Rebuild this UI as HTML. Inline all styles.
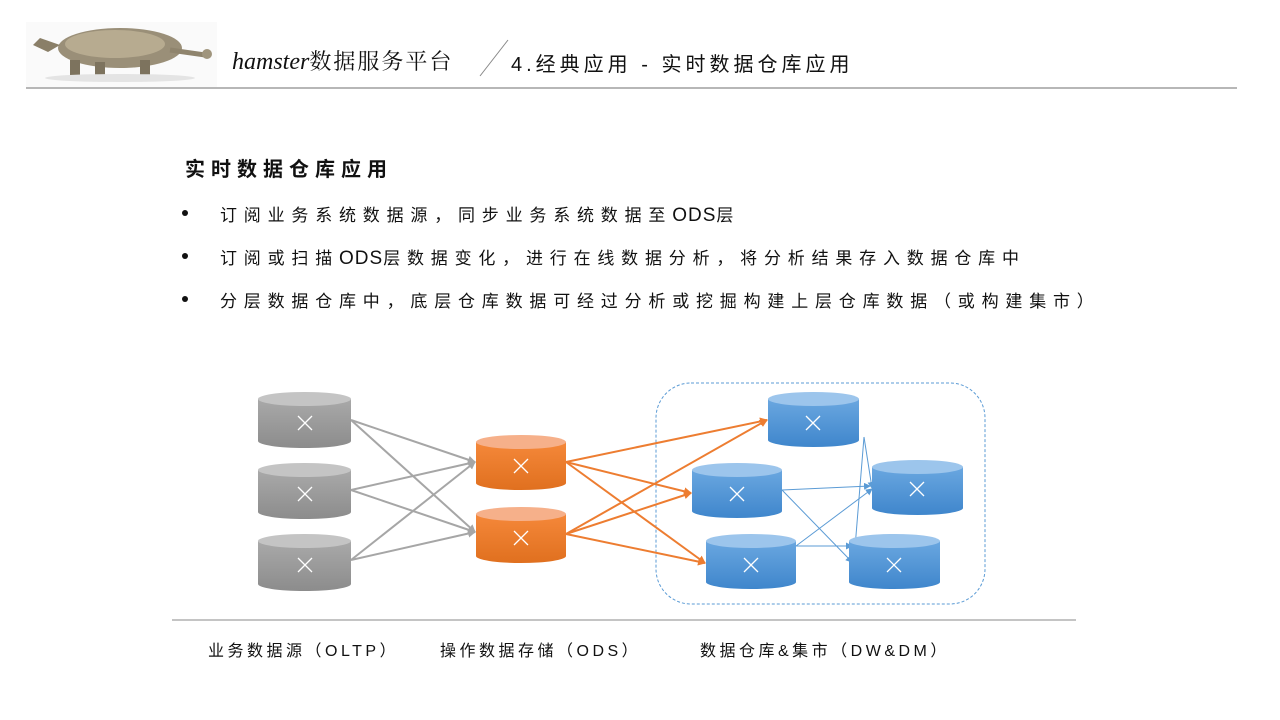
<!DOCTYPE html>
<html><head><meta charset="utf-8"><style>
html,body{margin:0;padding:0;background:#fff;}
body{width:1280px;height:720px;position:relative;overflow:hidden;font-family:"Liberation Sans","Noto Sans CJK SC",sans-serif;color:#111;}
.abs{position:absolute;white-space:nowrap;}
.b{font-size:17px;letter-spacing:6.8px;}
.b span{letter-spacing:1px;font-size:19px;}
.dot{position:absolute;width:6px;height:6px;border-radius:50%;background:#111;}
</style></head><body>
<svg class="abs" style="left:0;top:0" width="1280" height="720">
  <rect x="26" y="22" width="191" height="65" fill="#fafafa"/>
  <ellipse cx="120" cy="48" rx="62" ry="20" fill="#9a8f78"/>
  <ellipse cx="115" cy="44" rx="50" ry="14" fill="#b7ab90"/>
  <path d="M170 50 L205 55 L208 52" stroke="#8f846d" stroke-width="5" fill="none"/>
  <circle cx="207" cy="54" r="5" fill="#a0957d"/>
  <path d="M60 45 L40 38 L33 45 L48 52 Z" fill="#8a7f68"/>
  <rect x="70" y="60" width="10" height="16" fill="#7d735e"/>
  <rect x="95" y="62" width="10" height="14" fill="#7d735e"/>
  <rect x="140" y="60" width="10" height="16" fill="#7d735e"/>
  <ellipse cx="120" cy="78" rx="75" ry="4" fill="#e4e4e4"/>
  <line x1="26" y1="88" x2="1237" y2="88" stroke="#8c8c8c" stroke-width="1.2"/>
  <line x1="480" y1="76" x2="508" y2="40" stroke="#888" stroke-width="1"/>
  <line x1="172" y1="620" x2="1076" y2="620" stroke="#888" stroke-width="1"/>
  <defs>
    <marker id="ag" markerWidth="8" markerHeight="8" refX="7" refY="4" orient="auto" markerUnits="userSpaceOnUse"><path d="M0,0 L8,4 L0,8 Z" fill="#a6a6a6"/></marker>
    <marker id="ao" markerWidth="8" markerHeight="8" refX="7" refY="4" orient="auto" markerUnits="userSpaceOnUse"><path d="M0,0 L8,4 L0,8 Z" fill="#ed7d31"/></marker>
    <marker id="ab" markerWidth="7" markerHeight="7" refX="6" refY="3.5" orient="auto" markerUnits="userSpaceOnUse"><path d="M0,0 L7,3.5 L0,7 Z" fill="#5b9bd5"/></marker>
    <linearGradient id="gg" x1="0" y1="0" x2="0" y2="1"><stop offset="0" stop-color="#a9a9a9"/><stop offset="1" stop-color="#8c8c8c"/></linearGradient>
    <linearGradient id="go" x1="0" y1="0" x2="0" y2="1"><stop offset="0" stop-color="#f5883a"/><stop offset="1" stop-color="#e0701f"/></linearGradient>
    <linearGradient id="gb" x1="0" y1="0" x2="0" y2="1"><stop offset="0" stop-color="#6aa7e0"/><stop offset="1" stop-color="#3f86cc"/></linearGradient>
  </defs>
  <rect x="656" y="383" width="329" height="221" rx="35" fill="none" stroke="#5b9bd5" stroke-width="1" stroke-dasharray="3,2"/>
  <g stroke="#a6a6a6" stroke-width="2" marker-end="url(#ag)">
    <line x1="351" y1="420" x2="475" y2="462"/>
    <line x1="351" y1="420" x2="475" y2="532"/>
    <line x1="351" y1="490" x2="475" y2="462"/>
    <line x1="351" y1="490" x2="475" y2="532"/>
    <line x1="351" y1="560" x2="475" y2="462"/>
    <line x1="351" y1="560" x2="475" y2="532"/>
  </g>
  <g stroke="#ed7d31" stroke-width="2" marker-end="url(#ao)">
    <line x1="566" y1="462" x2="767" y2="420"/>
    <line x1="566" y1="462" x2="691" y2="493"/>
    <line x1="566" y1="462" x2="705" y2="563"/>
    <line x1="566" y1="534" x2="767" y2="420"/>
    <line x1="566" y1="534" x2="691" y2="493"/>
    <line x1="566" y1="534" x2="705" y2="563"/>
  </g>
  <g stroke="#5b9bd5" stroke-width="1" marker-end="url(#ab)">
    <line x1="864" y1="437" x2="872" y2="488"/>
    <line x1="864" y1="437" x2="854" y2="560"/>
    <line x1="782" y1="490" x2="870" y2="486"/>
    <line x1="782" y1="490" x2="852" y2="562"/>
    <line x1="796" y1="546" x2="852" y2="546"/>
    <line x1="796" y1="546" x2="872" y2="489"/>
  </g>
  <path d="M258 399 v42 a46.5 7 0 0 0 93 0 v-42 Z" fill="url(#gg)"/><ellipse cx="304.5" cy="399" rx="46.5" ry="7" fill="#c4c4c4"/>
  <path d="M258 470 v42 a46.5 7 0 0 0 93 0 v-42 Z" fill="url(#gg)"/><ellipse cx="304.5" cy="470" rx="46.5" ry="7" fill="#c4c4c4"/>
  <path d="M258 541 v43 a46.5 7 0 0 0 93 0 v-43 Z" fill="url(#gg)"/><ellipse cx="304.5" cy="541" rx="46.5" ry="7" fill="#c4c4c4"/>
  <path d="M476 442 v41 a45 7 0 0 0 90 0 v-41 Z" fill="url(#go)"/><ellipse cx="521" cy="442" rx="45" ry="7" fill="#f6b08a"/>
  <path d="M476 514 v42 a45 7 0 0 0 90 0 v-42 Z" fill="url(#go)"/><ellipse cx="521" cy="514" rx="45" ry="7" fill="#f6b08a"/>
  <path d="M768 399 v41 a45.5 7 0 0 0 91 0 v-41 Z" fill="url(#gb)"/><ellipse cx="813.5" cy="399" rx="45.5" ry="7" fill="#9cc5ec"/>
  <path d="M692 470 v41 a45 7 0 0 0 90 0 v-41 Z" fill="url(#gb)"/><ellipse cx="737" cy="470" rx="45" ry="7" fill="#9cc5ec"/>
  <path d="M706 541 v41 a45 7 0 0 0 90 0 v-41 Z" fill="url(#gb)"/><ellipse cx="751" cy="541" rx="45" ry="7" fill="#9cc5ec"/>
  <path d="M872 467 v41 a45.5 7 0 0 0 91 0 v-41 Z" fill="url(#gb)"/><ellipse cx="917.5" cy="467" rx="45.5" ry="7" fill="#9cc5ec"/>
  <path d="M849 541 v41 a45.5 7 0 0 0 91 0 v-41 Z" fill="url(#gb)"/><ellipse cx="894.5" cy="541" rx="45.5" ry="7" fill="#9cc5ec"/>
  <g stroke="#fff" stroke-width="1.3">
    <path d="M298 416 l14 14 M312 416 l-14 14"/>
    <path d="M298 487 l14 14 M312 487 l-14 14"/>
    <path d="M298 558 l14 14 M312 558 l-14 14"/>
    <path d="M514 459 l14 14 M528 459 l-14 14"/>
    <path d="M514 531 l14 14 M528 531 l-14 14"/>
    <path d="M806 416 l14 14 M820 416 l-14 14"/>
    <path d="M730 487 l14 14 M744 487 l-14 14"/>
    <path d="M744 558 l14 14 M758 558 l-14 14"/>
    <path d="M910 482 l14 14 M924 482 l-14 14"/>
    <path d="M887 558 l14 14 M901 558 l-14 14"/>
  </g>
</svg>
<div class="abs" style="left:232px;top:45px;font-size:24px;font-family:'Liberation Serif','Noto Serif CJK SC',serif;font-style:italic;">hamster<span style="font-style:normal;letter-spacing:2px;font-size:22px">数据服务平台</span></div>
<div class="abs" style="left:511px;top:48px;font-size:20px;letter-spacing:4px;">4.经典应用 - 实时数据仓库应用</div>
<div class="abs" style="left:185px;top:153px;font-size:20px;font-weight:bold;letter-spacing:6px;">实时数据仓库应用</div>
<div class="dot" style="left:182px;top:210px"></div>
<div class="dot" style="left:182px;top:253px"></div>
<div class="dot" style="left:182px;top:296px"></div>
<div class="abs b" style="left:220px;top:201px">订阅业务系统数据源，同步业务系统数据至<span>ODS</span>层</div>
<div class="abs b" style="left:220px;top:244px">订阅或扫描<span>ODS</span>层数据变化，进行在线数据分析，将分析结果存入数据仓库中</div>
<div class="abs b" style="left:220px;top:287px">分层数据仓库中，底层仓库数据可经过分析或挖掘构建上层仓库数据（或构建集市）</div>
<div class="abs" style="left:208px;top:637px;font-size:16px;letter-spacing:3.5px">业务数据源（OLTP）</div>
<div class="abs" style="left:440px;top:637px;font-size:16px;letter-spacing:3.5px">操作数据存储（ODS）</div>
<div class="abs" style="left:700px;top:637px;font-size:16px;letter-spacing:3.5px">数据仓库&amp;集市（DW&amp;DM）</div>
</body></html>
